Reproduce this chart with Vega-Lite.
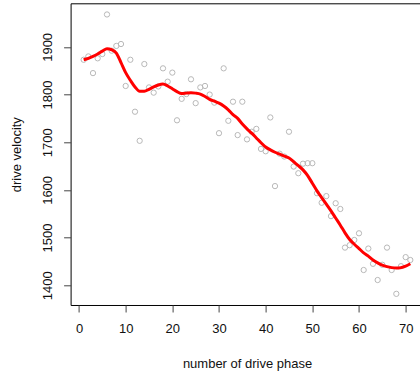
{
  "$schema": "https://vega.github.io/schema/vega-lite/v6.json",
  "width": 352.8,
  "height": 301.7,
  "autosize": "none",
  "padding": {"left": 70.6, "top": 3.3, "right": 0, "bottom": 70},
  "background": "white",
  "config": {
    "view": {"stroke": "#000", "strokeWidth": 1},
    "font": "Liberation Sans",
    "axis": {
      "grid": false,
      "domain": false,
      "ticks": true,
      "tickColor": "#444",
      "tickSize": 7,
      "tickWidth": 1,
      "labelFont": "Liberation Sans",
      "labelFontSize": 13,
      "labelColor": "#111",
      "titleFont": "Liberation Sans",
      "titleFontSize": 13,
      "titleFontWeight": "normal",
      "titleColor": "#111",
      "format": "d"
    }
  },
  "datasets": {
    "obs": [
      {"phase": 1, "velocity": 1873}, {"phase": 2, "velocity": 1880}, {"phase": 3, "velocity": 1845},
      {"phase": 4, "velocity": 1876}, {"phase": 5, "velocity": 1885}, {"phase": 6, "velocity": 1968},
      {"phase": 7, "velocity": 1892}, {"phase": 8, "velocity": 1902}, {"phase": 9, "velocity": 1906},
      {"phase": 10, "velocity": 1818}, {"phase": 11, "velocity": 1873}, {"phase": 12, "velocity": 1764},
      {"phase": 13, "velocity": 1703}, {"phase": 14, "velocity": 1864}, {"phase": 15, "velocity": 1815},
      {"phase": 16, "velocity": 1804}, {"phase": 17, "velocity": 1817}, {"phase": 18, "velocity": 1855},
      {"phase": 19, "velocity": 1827}, {"phase": 20, "velocity": 1846}, {"phase": 21, "velocity": 1746},
      {"phase": 22, "velocity": 1791}, {"phase": 23, "velocity": 1801}, {"phase": 24, "velocity": 1832},
      {"phase": 25, "velocity": 1782}, {"phase": 26, "velocity": 1815}, {"phase": 27, "velocity": 1818},
      {"phase": 28, "velocity": 1800}, {"phase": 29, "velocity": 1783}, {"phase": 30, "velocity": 1719},
      {"phase": 31, "velocity": 1855}, {"phase": 32, "velocity": 1745}, {"phase": 33, "velocity": 1785},
      {"phase": 34, "velocity": 1715}, {"phase": 35, "velocity": 1785}, {"phase": 36, "velocity": 1706},
      {"phase": 37, "velocity": 1722}, {"phase": 38, "velocity": 1728}, {"phase": 39, "velocity": 1686},
      {"phase": 40, "velocity": 1681}, {"phase": 41, "velocity": 1752}, {"phase": 42, "velocity": 1608},
      {"phase": 43, "velocity": 1676}, {"phase": 44, "velocity": 1670}, {"phase": 45, "velocity": 1722},
      {"phase": 46, "velocity": 1649}, {"phase": 47, "velocity": 1635}, {"phase": 48, "velocity": 1655},
      {"phase": 49, "velocity": 1656}, {"phase": 50, "velocity": 1656}, {"phase": 51, "velocity": 1593},
      {"phase": 52, "velocity": 1573}, {"phase": 53, "velocity": 1587}, {"phase": 54, "velocity": 1545},
      {"phase": 55, "velocity": 1572}, {"phase": 56, "velocity": 1560}, {"phase": 57, "velocity": 1479},
      {"phase": 58, "velocity": 1484}, {"phase": 59, "velocity": 1495}, {"phase": 60, "velocity": 1509},
      {"phase": 61, "velocity": 1432}, {"phase": 62, "velocity": 1477}, {"phase": 63, "velocity": 1445},
      {"phase": 64, "velocity": 1411}, {"phase": 65, "velocity": 1443}, {"phase": 66, "velocity": 1479},
      {"phase": 67, "velocity": 1432}, {"phase": 68, "velocity": 1382}, {"phase": 69, "velocity": 1440},
      {"phase": 70, "velocity": 1459}, {"phase": 71, "velocity": 1453}
    ],
    "smooth": [
      {"phase": 1, "velocity": 1873}, {"phase": 2, "velocity": 1876}, {"phase": 3, "velocity": 1880},
      {"phase": 4, "velocity": 1885}, {"phase": 5, "velocity": 1891}, {"phase": 6, "velocity": 1896},
      {"phase": 7, "velocity": 1894}, {"phase": 8, "velocity": 1887}, {"phase": 9, "velocity": 1867},
      {"phase": 10, "velocity": 1846}, {"phase": 11, "velocity": 1830}, {"phase": 12, "velocity": 1816},
      {"phase": 13, "velocity": 1807}, {"phase": 14, "velocity": 1807}, {"phase": 15, "velocity": 1811},
      {"phase": 16, "velocity": 1816}, {"phase": 17, "velocity": 1820}, {"phase": 18, "velocity": 1822},
      {"phase": 19, "velocity": 1818}, {"phase": 20, "velocity": 1812}, {"phase": 21, "velocity": 1806},
      {"phase": 22, "velocity": 1802}, {"phase": 23, "velocity": 1803}, {"phase": 24, "velocity": 1804},
      {"phase": 25, "velocity": 1803}, {"phase": 26, "velocity": 1801}, {"phase": 27, "velocity": 1796},
      {"phase": 28, "velocity": 1790}, {"phase": 29, "velocity": 1786}, {"phase": 30, "velocity": 1782},
      {"phase": 31, "velocity": 1776}, {"phase": 32, "velocity": 1768}, {"phase": 33, "velocity": 1758},
      {"phase": 34, "velocity": 1750}, {"phase": 35, "velocity": 1738}, {"phase": 36, "velocity": 1728},
      {"phase": 37, "velocity": 1719}, {"phase": 38, "velocity": 1709}, {"phase": 39, "velocity": 1699},
      {"phase": 40, "velocity": 1690}, {"phase": 41, "velocity": 1684}, {"phase": 42, "velocity": 1679},
      {"phase": 43, "velocity": 1675}, {"phase": 44, "velocity": 1671}, {"phase": 45, "velocity": 1667},
      {"phase": 46, "velocity": 1659}, {"phase": 47, "velocity": 1651}, {"phase": 48, "velocity": 1642},
      {"phase": 49, "velocity": 1630}, {"phase": 50, "velocity": 1614}, {"phase": 51, "velocity": 1598},
      {"phase": 52, "velocity": 1584}, {"phase": 53, "velocity": 1570}, {"phase": 54, "velocity": 1556},
      {"phase": 55, "velocity": 1541}, {"phase": 56, "velocity": 1526}, {"phase": 57, "velocity": 1510},
      {"phase": 58, "velocity": 1496}, {"phase": 59, "velocity": 1486}, {"phase": 60, "velocity": 1477},
      {"phase": 61, "velocity": 1468}, {"phase": 62, "velocity": 1461}, {"phase": 63, "velocity": 1453},
      {"phase": 64, "velocity": 1447}, {"phase": 65, "velocity": 1442}, {"phase": 66, "velocity": 1439},
      {"phase": 67, "velocity": 1437}, {"phase": 68, "velocity": 1436}, {"phase": 69, "velocity": 1437},
      {"phase": 70, "velocity": 1440}, {"phase": 71, "velocity": 1445}
    ]
  },
  "encoding": {
    "x": {
      "field": "phase",
      "type": "quantitative",
      "scale": {"domain": [-1.8, 73.8], "nice": false, "zero": false},
      "axis": {
        "title": "number of drive phase",
        "values": [0, 10, 20, 30, 40, 50, 60, 70],
        "labelPadding": 11,
        "titlePadding": 22
      }
    },
    "y": {
      "field": "velocity",
      "type": "quantitative",
      "scale": {"domain": [1358.6, 1991.4], "nice": false, "zero": false},
      "axis": {
        "title": "drive velocity",
        "values": [1400, 1500, 1600, 1700, 1800, 1900],
        "labelAngle": 270,
        "labelAlign": "center",
        "labelBaseline": "bottom",
        "labelPadding": 9,
        "titlePadding": 18
      }
    }
  },
  "layer": [
    {
      "data": {"name": "obs"},
      "mark": {"type": "point", "shape": "circle", "filled": false, "size": 28, "stroke": "#b8b8b8", "strokeWidth": 1, "opacity": 1}
    },
    {
      "data": {"name": "smooth"},
      "mark": {"type": "line", "color": "#ff0000", "strokeWidth": 3, "interpolate": "monotone"}
    }
  ]
}
